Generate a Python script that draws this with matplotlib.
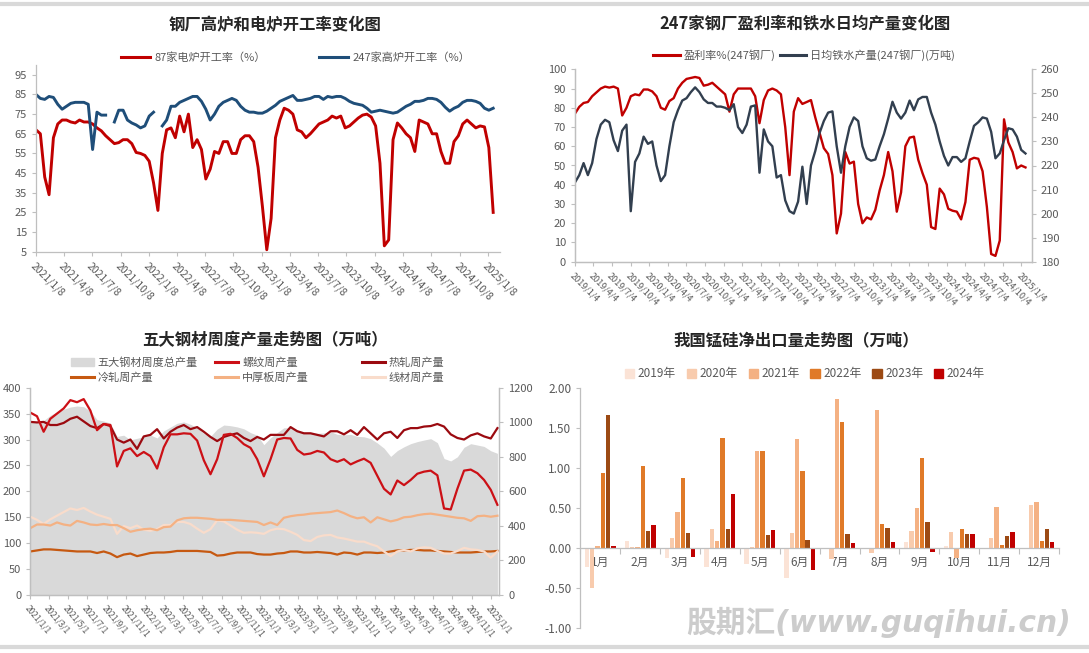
import matplotlib
matplotlib.use('Agg')
import matplotlib.pyplot as plt
from matplotlib.lines import Line2D
from matplotlib.patches import Patch
import numpy as np
import pandas as pd

plt.rcParams['font.family'] = ['Noto Sans CJK SC', 'DejaVu Sans']
plt.rcParams['axes.unicode_minus'] = False

nan = np.nan

# ---------------- 钢厂高炉和电炉开工率 (biweekly, 2021/1/8 - 2025/1) ----------------
eaf_rate = [67, 65, 43, 34, 63, 70, 72, 72, 71, 70.5,
            72, 71, 71, 70, 68, 66.5, 64, 62, 60, 60.5,
            62, 62, 60, 55.5, 55, 54, 51, 40, 26, 55,
            67, 68, 63, 74, 66, 75, 58, 62, 57, 42,
            47, 56, 55, 61, 61, 55, 55, 62, 64, 64,
            61, 48, 28, 6, 22, 63, 72, 78, 77, 75,
            67, 66, 63, 65, 67.5, 70, 71, 72, 74, 73,
            74, 68, 69, 71, 73, 74.5, 75, 73.5, 69, 50,
            8, 11, 62, 70.5, 68, 65, 63, 56, 72, 71,
            70, 65, 65, 56, 50, 50, 61, 64, 70, 72,
            70, 68, 69, 68.5, 58, 25]
bf_rate = [85, 83, 82.5, 84, 83.5, 80, 77.5, 79, 80.5, 81,
           81, 81, 80, 57, 76, 74.5, 74.5, nan, 71, 77,
           77, 72, 70.5, 69.5, 68, 69, 74, 76, nan, 69,
           72, 79, 79, 81, 82, 83, 84, 84, 81.5, 77.5,
           72, 75, 79, 81, 82, 83, 82, 79, 77, 76,
           76, 75.5, 75.5, 76.5, 78, 79.5, 81.5, 82.5, 83.5, 84.5,
           82, 82, 82.5, 83, 84, 84, 82.5, 84, 83.5, 84,
           84, 83, 81.5, 80.5, 80, 79.5, 78, 76, 76.5, 77,
           76.5, 76, 75.5, 76, 77.5, 79, 80, 81.5, 81.5, 82,
           83, 83, 82.5, 81, 78.5, 76.5, 78, 79, 81, 82,
           82, 81.5, 80.5, 78, 77, 78]

# ---------------- 247家钢厂盈利率和铁水日均产量 (3-weekly, 2019/1/4 - 2025/1) ----------------
profit_rate = [77, 80.5, 82.5, 83, 86, 88, 90, 91, 90.5, 91,
               90, 76, 80, 86, 87, 86.5, 89.5, 89.5, 88.5, 86,
               80, 79, 83.5, 85, 90, 93, 95, 95.5, 96, 95.5,
               91.5, 92, 93, 91, 89, 87, 78, 87, 90, 90,
               90, 90, 86, 72, 84, 89, 90, 89, 87, 70,
               45, 78, 85, 82, 83, 84, 75, 67, 59, 56,
               45, 14.7, 25, 57, 51, 52, 30, 20, 23, 22,
               27, 37, 45, 57, 47, 26, 36, 60, 64.5, 65,
               53, 46, 40, 18, 17, 38, 35, 27.5, 26.5, 26,
               22, 31, 53, 54, 53.5, 47, 28.5, 4, 3, 11,
               74, 62, 57, 48.5, 50, 49]
hot_metal = [213, 216, 221, 216, 221, 231, 237, 239, 238, 230.5,
             226, 234.5, 237, 201, 221.5, 225, 232, 229, 230, 220,
             213.5, 216, 228, 238, 243, 247, 248, 250.5, 252.5, 250.5,
             247.5, 246, 246, 244.5, 244.5, 244, 243, 245.5, 236, 233.5,
             237, 244.5, 245, 217, 235, 230, 228, 215, 216, 205.5,
             201, 200, 205, 219.5, 204, 220, 226, 233.5, 238.5, 242,
             242.5, 228, 217, 228, 236, 240, 238.5, 228, 223, 222,
             222.5, 228, 233, 239.5, 246.5, 242, 239.5, 242, 247, 243,
             247.5, 248.5, 248.5, 242, 237, 230, 224, 220, 223.5, 223.5,
             221.5, 223, 230, 236.5, 238, 240, 239.5, 234, 223, 225,
             230.5, 235.5, 235, 232, 226.5, 225]

# ---------------- 五大钢材周度产量 (3-weekly, 2021/1/1 - 2025/1) ----------------
total_output = [1003, 1003, 1010, 1040, 1060, 1075, 1088, 1094, 1090, 1065,
                1015, 1007, 995, 918, 925, 898, 907, 916, 926, 909,
                950, 972, 994, 1002, 988, 968, 935, 918, 960, 984,
                980, 973, 962, 940, 925, 870, 910, 940, 968, 968,
                955, 942, 936, 936, 938, 945, 930, 927, 930, 918,
                916, 905, 880, 850, 802, 836, 858, 876, 888, 897,
                905, 882, 790, 776, 800, 855, 876, 868, 860, 835, 820]
rebar = [352, 345, 315, 340, 350, 360, 376, 372, 378, 356,
         318, 330, 328, 248, 278, 283, 268, 276, 268, 244,
         285, 310, 310, 312, 311, 298, 260, 233, 262, 309,
         311, 303, 291, 284, 262, 229, 262, 300, 303, 302,
         280, 271, 273, 278, 275, 262, 257, 262, 252, 258,
         263, 255, 230, 205, 194, 221, 212, 222, 234, 238,
         240, 231, 167, 165, 205, 240, 242, 235, 222, 203, 174]
hot_rolled = [334, 333, 334, 328, 328, 332, 340, 344, 335, 326,
              322, 330, 326, 300, 294, 300, 282, 306, 309, 320,
              302, 315, 323, 328, 320, 324, 315, 305, 297, 305,
              309, 312, 303, 297, 305, 300, 309, 309, 309, 324,
              316, 312, 312, 309, 306, 316, 316, 310, 318, 309,
              324, 312, 300, 312, 315, 303, 318, 322, 322, 325,
              326, 330, 325, 310, 303, 300, 308, 312, 306, 302, 322]
cold_rolled = [84, 86, 88, 88, 87, 86, 85, 84, 84, 84,
               81, 84, 80, 73, 78, 80, 75, 78, 81, 82,
               82, 83, 85, 85, 85, 85, 84, 83, 76, 77,
               80, 82, 82, 82, 79, 78, 78, 80, 81, 84,
               84, 82, 82, 83, 82, 81, 78, 82, 81, 78,
               82, 82, 81, 82, 84, 86, 86, 87, 87, 86,
               86, 85, 84, 83, 82, 82, 82, 83, 84, 84, 85]
plate = [129, 136, 136, 134, 140, 136, 134, 143, 140, 136,
         135, 137, 135, 135, 129, 122, 125, 127, 128, 125,
         131, 132, 144, 148, 149, 149, 148, 147, 145, 145,
         145, 144, 143, 142, 141, 135, 140, 135, 149, 152,
         154, 155, 157, 158, 159, 160, 163, 158, 152, 148,
         150, 140, 150, 146, 142, 145, 150, 151, 154, 156,
         157, 155, 153, 151, 149, 148, 143, 152, 153, 151, 153]
wire_rod = [151, 145, 137, 146, 153, 160, 167, 164, 168, 161,
            155, 151, 147, 118, 133, 129, 134, 126, 124, 127,
            135, 135, 141, 141, 137, 128, 120, 127, 144, 142,
            134, 126, 120, 121, 120, 118, 125, 128, 127, 122,
            116, 106, 104, 112, 115, 116, 111, 109, 106, 103,
            103, 98, 94, 84, 75, 84, 87, 84, 90, 92,
            91, 85, 80, 80, 85, 91, 88, 87, 84, 72, 84]

# ---------------- 我国锰硅净出口量 (万吨) ----------------
months = ['1月', '2月', '3月', '4月', '5月', '6月', '7月', '8月', '9月', '10月', '11月', '12月']
years = ['2019年', '2020年', '2021年', '2022年', '2023年', '2024年']
net_2019 = [-0.24, 0.09, -0.12, -0.24, -0.20, -0.38, 0.00, -0.01, 0.07, 0.02, 0.00, 0.00]
net_2020 = [-0.50, 0.01, 0.13, 0.24, 0.01, 0.19, -0.14, -0.06, 0.21, 0.20, 0.13, 0.54]
net_2021 = [0.02, 0.01, 0.45, 0.09, 1.21, 1.36, 1.86, 1.72, 0.50, -0.12, 0.51, 0.57]
net_2022 = [0.94, 1.02, 0.88, 1.37, 1.21, 0.96, 1.58, 0.30, 1.12, 0.24, 0.04, 0.09]
net_2023 = [1.66, 0.21, 0.19, 0.24, 0.16, 0.10, 0.17, 0.25, 0.33, 0.17, 0.15, 0.24]
net_2024 = [0.02, 0.29, -0.11, 0.67, 0.22, -0.27, 0.06, 0.07, -0.05, 0.18, 0.20, 0.08]

W, H = 1089, 653
fig = plt.figure(figsize=(W / 100, H / 100), dpi=100)
fig.patch.set_facecolor('white')

AX_C = '#bfbfbf'
TXT_C = '#595959'


def px_axes(l, t, r, b):
    return fig.add_axes([l / W, 1 - b / H, (r - l) / W, (b - t) / H])


def style(ax, sides=('left', 'bottom')):
    for name, s in ax.spines.items():
        s.set_visible(name in sides)
        s.set_color(AX_C)
        s.set_linewidth(0.9)
    ax.tick_params(colors=AX_C, labelcolor=TXT_C, labelsize=8, length=3, width=0.8)


def date_labels(ds):
    return [f"{d.year}/{d.month}/{d.day}" for d in ds]


def title(x, y, s):
    fig.text(x / W, 1 - y / H, s, ha='center', va='center', fontsize=11.8,
             fontweight='bold', color='#262626')


# separators
for yy in (4, 647):
    fig.add_artist(Line2D([0, 1], [1 - yy / H] * 2, color='#d9d9d9', lw=3))

# ======== panel 1 ========
RED = '#c00000'
BLUE = '#1f4e79'
ax1 = px_axes(36, 65, 500, 251.7)
style(ax1)
d1 = pd.date_range('2021-01-08', '2025-01-24', periods=len(eaf_rate))
ax1.plot(d1, eaf_rate, color=RED, lw=2.1)
ax1.plot(d1, bf_rate, color=BLUE, lw=2.1)
ax1.set_ylim(5, 100)
ax1.set_yticks(np.arange(5, 96, 10))
ax1.set_xlim(pd.Timestamp('2021-01-08'), pd.Timestamp('2025-02-15'))
t1 = list(pd.date_range('2021-01-01', '2025-01-01', freq='QS') + pd.Timedelta(days=7))
ax1.set_xticks(t1)
ax1.set_xticklabels(date_labels(t1), rotation=-45, ha='left', va='top',
                    rotation_mode='anchor', fontsize=7.5)
title(275, 25, '钢厂高炉和电炉开工率变化图')
fig.legend([Line2D([], [], color=RED, lw=2.2), Line2D([], [], color=BLUE, lw=2.2)],
           ['87家电炉开工率（%）', '247家高炉开工率（%）'],
           loc='center', bbox_to_anchor=(296 / W, 1 - 58 / H), ncol=2, frameon=False,
           fontsize=8, handlelength=2.6, handletextpad=0.4, columnspacing=4.8,
           labelcolor=TXT_C)

# ======== panel 2 ========
NAVY = '#323f4f'
ax2 = px_axes(575, 69.3, 1032, 261.7)
style(ax2, ('left', 'bottom', 'right'))
ax2r = ax2.twinx()
style(ax2r, ('left', 'bottom', 'right'))
d2 = pd.date_range('2019-01-04', '2025-01-24', periods=len(profit_rate))
ax2.plot(d2, profit_rate, color=RED, lw=1.7)
ax2r.plot(d2, hot_metal, color=NAVY, lw=1.7)
ax2.set_ylim(0, 100)
ax2.set_yticks(np.arange(0, 101, 10))
ax2r.set_ylim(180, 260)
ax2r.set_yticks(np.arange(180, 261, 10))
ax2.set_xlim(pd.Timestamp('2019-01-04'), pd.Timestamp('2025-02-25'))
t2 = list(pd.date_range('2019-01-01', '2025-01-01', freq='QS') + pd.Timedelta(days=3))
ax2.set_xticks(t2)
ax2.set_xticklabels(date_labels(t2), rotation=-45, ha='left', va='top',
                    rotation_mode='anchor', fontsize=6.5)
title(805, 23, '247家钢厂盈利率和铁水日均产量变化图')
fig.legend([Line2D([], [], color=RED, lw=2.2), Line2D([], [], color=NAVY, lw=2.2)],
           ['盈利率%(247钢厂)', '日均铁水产量(247钢厂)(万吨)'],
           loc='center', bbox_to_anchor=(804 / W, 1 - 55 / H), ncol=2, frameon=False,
           fontsize=8, handlelength=2.4, handletextpad=0.3, columnspacing=0.4,
           labelcolor=TXT_C)

# ======== panel 3 ========
C_TOTAL = '#d9d9d9'
C_REBAR = '#cc1016'
C_HOT = '#9b0a10'
C_COLD = '#c65911'
C_PLATE = '#f4b183'
C_WIRE = '#f9dccb'
ax3 = px_axes(30.3, 387.7, 499, 595)
ax3r = ax3.twinx()
style(ax3, ('left', 'bottom', 'right'))
style(ax3r, ('left', 'bottom', 'right'))
d3 = pd.date_range('2021-01-01', '2025-01-22', periods=len(rebar))
ax3r.fill_between(d3, total_output, color=C_TOTAL, lw=0)
ax3.set_zorder(ax3r.get_zorder() + 1)
ax3.patch.set_visible(False)
ax3.plot(d3, cold_rolled, color=C_COLD, lw=1.6)
ax3.plot(d3, wire_rod, color=C_WIRE, lw=1.6)
ax3.plot(d3, plate, color=C_PLATE, lw=1.6)
ax3.plot(d3, hot_rolled, color=C_HOT, lw=1.6)
ax3.plot(d3, rebar, color=C_REBAR, lw=1.6)
ax3.set_ylim(0, 400)
ax3.set_yticks(np.arange(0, 401, 50))
ax3r.set_ylim(0, 1200)
ax3r.set_yticks(np.arange(0, 1201, 200))
ax3.set_xlim(pd.Timestamp('2021-01-01'), pd.Timestamp('2025-01-27'))
t3 = list(pd.date_range('2021-01-01', '2025-01-01', freq='2MS'))
ax3.set_xticks(t3)
ax3.set_xticklabels(date_labels(t3), rotation=-50, ha='left', va='top',
                    rotation_mode='anchor', fontsize=6)
title(265, 340, '五大钢材周度产量走势图（万吨）')
leg_cols = [
    (70.6, [Patch(color=C_TOTAL), Line2D([], [], color=C_COLD, lw=2.2)], ['五大钢材周度总产量', '冷轧周产量']),
    (215, [Line2D([], [], color=C_REBAR, lw=2.2), Line2D([], [], color=C_PLATE, lw=2.2)], ['螺纹周产量', '中厚板周产量']),
    (361.6, [Line2D([], [], color=C_HOT, lw=2.2), Line2D([], [], color=C_WIRE, lw=2.2)], ['热轧周产量', '线材周产量']),
]
for x0, hs, ls in leg_cols:
    fig.legend(hs, ls, loc='upper left', bbox_to_anchor=(x0 / W, 1 - 357 / H),
               frameon=False, fontsize=8, handlelength=2.1, handleheight=0.7,
               handletextpad=0.35, labelspacing=0.45, borderpad=0, borderaxespad=0,
               labelcolor=TXT_C)

# ======== panel 4 ========
bar_colors = ['#fbe3d6', '#f8cbad', '#f4b183', '#e07a28', '#9c4a14', '#c00000']
series = [net_2019, net_2020, net_2021, net_2022, net_2023, net_2024]
ax4 = px_axes(580.3, 388, 1059, 628)
style(ax4)
x = np.arange(len(months))
slot = 0.133
for k, (vals, col) in enumerate(zip(series, bar_colors)):
    ax4.bar(x + (k - 2.5) * slot, vals, width=slot * 0.82, color=col, label=years[k], zorder=2)
ax4.set_ylim(-1, 2)
ax4.set_yticks(np.arange(-1, 2.01, 0.5))
ax4.set_yticklabels([f"{v:.2f}" for v in np.arange(-1, 2.01, 0.5)], fontsize=8.5)
ax4.set_xlim(-0.5, 11.5)
ax4.spines['bottom'].set_position(('data', 0))
ax4.set_xticks(x)
ax4.set_xticklabels(months, fontsize=8.5)
ax4.tick_params(axis='x', which='major', length=0, pad=6)
ax4.set_xticks(np.arange(-0.5, 12, 1), minor=True)
ax4.tick_params(axis='x', which='minor', length=4, color=AX_C, width=0.8)
title(796, 340, '我国锰硅净出口量走势图（万吨）')
fig.legend([Patch(color=c) for c in bar_colors], years, loc='center',
           bbox_to_anchor=(805 / W, 1 - 374 / H), ncol=6, frameon=False, fontsize=8.5,
           handlelength=0.8, handleheight=0.8, handletextpad=0.3, columnspacing=0.9,
           labelcolor=TXT_C)

fig.text(879 / W, 1 - 622 / H, '股期汇(www.guqihui.cn)', ha='center', va='center',
         fontsize=21.4, fontweight='bold', style='oblique', color='#cccccc',
         family=['DejaVu Sans', 'Noto Sans CJK SC'])

fig.savefig('out.png', dpi=100)
